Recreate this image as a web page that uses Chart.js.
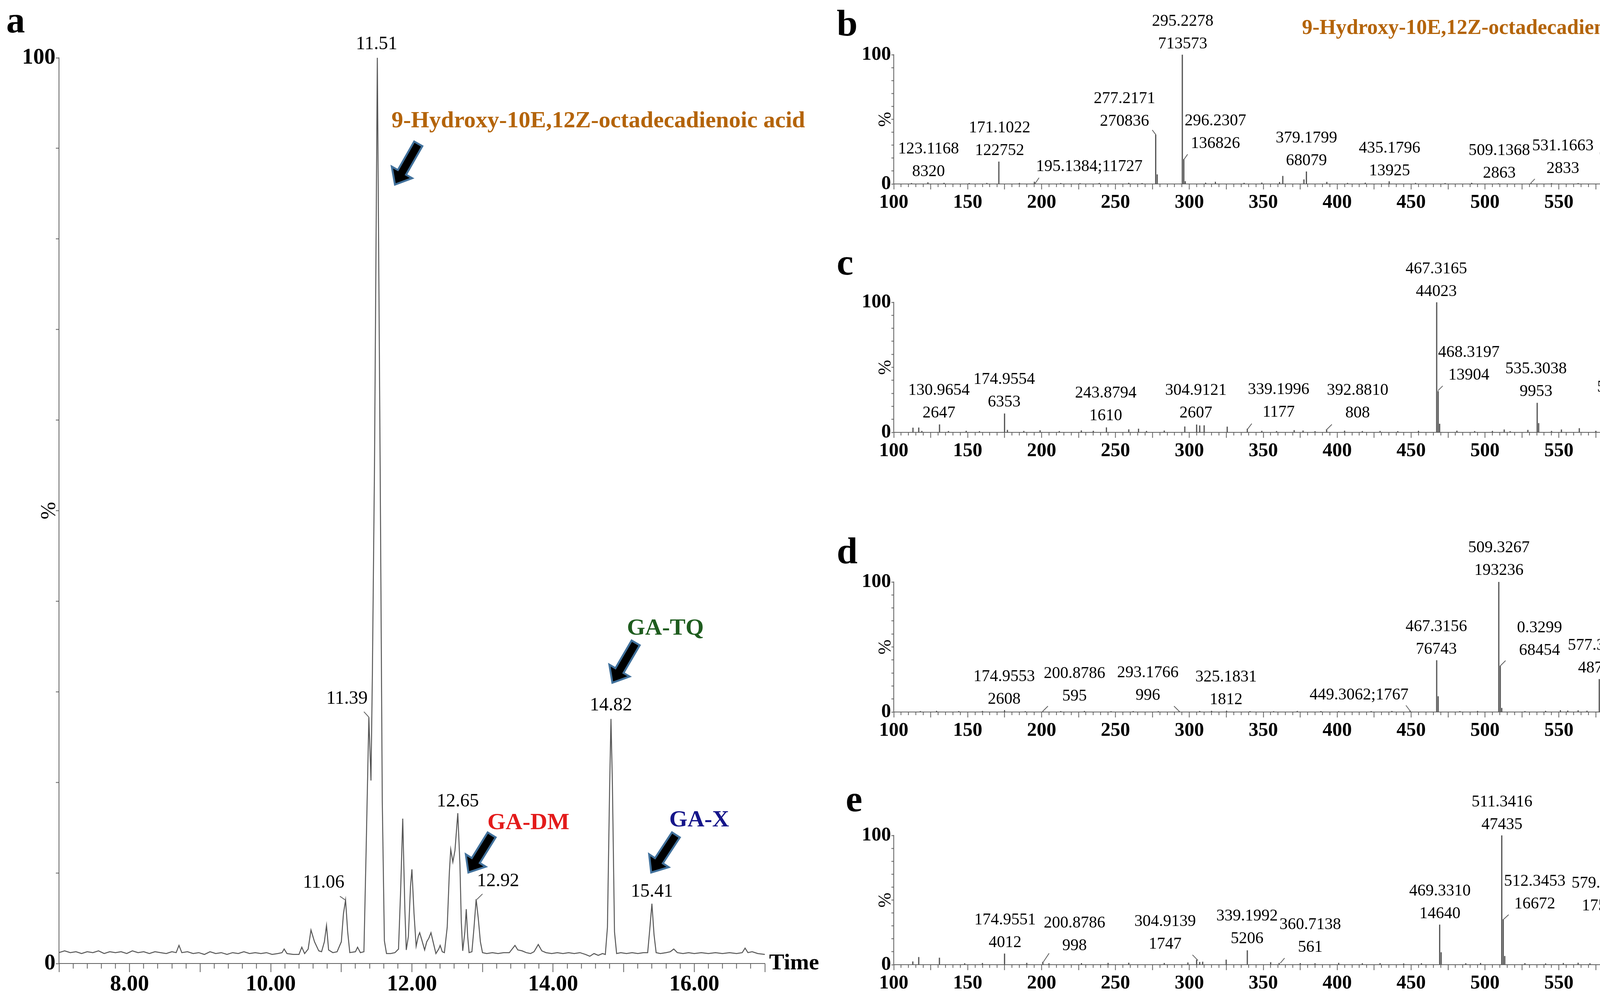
<!DOCTYPE html>
<html><head><meta charset="utf-8">
<script src="https://cdn.jsdelivr.net/npm/chart.js"></script>
<style>
html,body{margin:0;padding:0;background:#fff;}
#page{position:relative;width:4300px;height:2563px;background:#fff;overflow:hidden;}
#page canvas{position:absolute;}
</style></head>
<body><div id="page"></div>
<script>
// ================= DATA =================
// Panel a: total ion chromatogram, [time (min), relative intensity (%)]
const chromTrace = [
[7.00,1.2],[7.08,1.4],[7.16,1.2],[7.24,1.3],[7.32,1.1],[7.40,1.3],[7.48,1.2],[7.56,1.4],[7.64,1.1],[7.72,1.3],
[7.80,1.2],[7.88,1.3],[7.96,1.1],[8.04,1.4],[8.12,1.2],[8.20,1.3],[8.28,1.1],[8.36,1.3],[8.44,1.2],[8.52,1.1],
[8.60,1.3],[8.66,1.2],[8.70,2.0],[8.74,1.2],[8.82,1.3],[8.90,1.1],[8.98,1.2],[9.06,1.0],[9.14,1.3],[9.22,1.1],
[9.30,1.2],[9.38,1.0],[9.46,1.2],[9.54,1.1],[9.62,1.3],[9.70,1.1],[9.78,1.2],[9.86,1.1],[9.94,1.2],[10.02,1.0],
[10.10,1.1],[10.16,1.2],[10.19,1.6],[10.23,1.1],[10.32,1.0],[10.40,1.0],[10.44,1.8],[10.48,1.1],[10.53,1.6],[10.57,3.7],
[10.62,2.4],[10.68,1.4],[10.72,1.3],[10.76,2.4],[10.79,4.2],[10.82,1.5],[10.88,1.2],[10.94,1.3],[11.00,2.4],[11.03,5.5],[11.06,7.0],
[11.09,3.5],[11.12,1.2],[11.20,1.3],[11.23,1.8],[11.27,1.2],[11.32,1.3],[11.35,12.0],[11.39,27.2],[11.42,20.2],[11.44,32.0],
[11.47,55.0],[11.51,100],[11.55,55.0],[11.58,18.0],[11.61,2.5],[11.64,1.1],[11.70,1.1],[11.76,1.2],[11.81,1.6],[11.84,8.0],
[11.87,16.0],[11.90,6.0],[11.92,1.5],[11.95,3.0],[11.98,8.5],[12.00,10.4],[12.03,5.5],[12.06,1.9],[12.09,3.0],[12.11,3.4],
[12.14,2.6],[12.18,1.5],[12.21,2.4],[12.24,2.8],[12.27,3.4],[12.30,2.4],[12.34,1.1],[12.38,1.6],[12.40,2.0],[12.43,1.3],
[12.46,1.2],[12.50,4.0],[12.53,10.0],[12.55,12.6],[12.58,11.2],[12.61,12.5],[12.65,16.6],[12.68,11.0],[12.70,4.5],[12.72,1.4],
[12.75,3.5],[12.77,6.0],[12.79,3.0],[12.81,1.2],[12.85,1.3],[12.88,4.0],[12.91,7.1],[12.94,5.0],[12.97,2.4],[13.00,1.2],
[13.06,1.1],[13.14,1.2],[13.22,1.1],[13.30,1.2],[13.38,1.2],[13.42,1.6],[13.46,2.0],[13.50,1.5],[13.56,1.4],[13.62,1.2],
[13.68,1.1],[13.73,1.3],[13.76,1.7],[13.79,2.1],[13.84,1.4],[13.90,1.2],[13.98,1.1],[14.06,1.2],[14.14,1.1],[14.22,1.2],
[14.30,1.1],[14.38,1.2],[14.46,1.0],[14.52,0.8],[14.58,1.1],[14.64,0.9],[14.70,1.1],[14.74,1.0],[14.77,4.0],[14.80,19.0],
[14.82,27.0],[14.84,20.0],[14.87,3.5],[14.90,1.1],[14.96,1.2],[15.04,1.1],[15.12,1.2],[15.20,1.1],[15.28,1.2],[15.34,1.2],
[15.37,3.8],[15.40,6.6],[15.43,3.2],[15.46,1.2],[15.52,1.1],[15.60,1.2],[15.66,1.3],[15.71,1.6],[15.76,1.2],[15.84,1.1],
[15.92,1.2],[16.00,1.1],[16.10,1.2],[16.20,1.1],[16.30,1.2],[16.40,1.1],[16.50,1.2],[16.60,1.1],[16.68,1.2],[16.72,1.7],
[16.76,1.2],[16.82,1.3],[16.90,1.1],[17.00,1.0]
];
const chromPeakText = ['11.51','11.39','11.06','12.65','12.92','14.82','15.41'];
const chromCompounds = ['9-Hydroxy-10E,12Z-octadecadienoic acid','GA-TQ','GA-DM','GA-X'];
const chromXTickLabels = [8, 10, 12, 14, 16];
const yTickLabels = [0, 100];
const msXTickLabels = [100, 150, 200, 250, 300, 350, 400, 450, 500, 550, 600];

// Panel b: 9-Hydroxy-10E,12Z-octadecadienoic acid
const bMz  = [123.1168,171.1022,195.1384,277.2171,295.2278,296.2307,379.1799,435.1796,509.1368,531.1663,597.4699];
const bPct = [1.17,17.2,1.64,37.95,100,19.17,9.54,1.95,0.40,0.40,0.30];
const bText = ['123.1168\n8320','171.1022\n122752','195.1384;11727','277.2171\n270836','295.2278\n713573','296.2307\n136826','379.1799\n68079','435.1796\n13925','509.1368\n2863','531.1663\n2833','597.4699\n2173'];
const bMinor = [[278.22,7.3],[297.23,2.0],[363.2,6.1],[377.5,3.4],[317.6,1.6],[112,0.6],[134,0.8],[151,0.6],[163,0.7],[185,0.7],[213,0.6],[226,0.5],[239,0.7],[259,0.8],[268,0.6],[311,0.9],[337,0.8],[349,1.0],[361,1.4],[393,1.5],[407,0.7],[419,0.9],[453,0.7],[473,0.6],[491,0.8],[545,0.5],[563,0.6],[579,0.5]];

// Panel c: GA-DM
const cMz  = [130.9654,174.9554,243.8794,304.9121,339.1996,392.8810,467.3165,468.3197,535.3038,597.2727];
const cPct = [6.0,14.4,3.7,5.9,2.7,1.8,100,31.6,22.6,8.8];
const cText = ['130.9654\n2647','174.9554\n6353','243.8794\n1610','304.9121\n2607','339.1996\n1177','392.8810\n808','467.3165\n44023','468.3197\n13904','535.3038\n9953','597.2727\n3863'];
const cMinor = [[113.0,3.5],[116.9,3.6],[119,1.0],[137,0.9],[149,1.1],[158,0.8],[176.9,1.8],[188,1.0],[199.0,1.5],[212,0.9],[226.9,1.4],[235,1.1],[259.0,2.2],[265.6,2.7],[271,1.0],[283,1.3],[296.9,4.4],[307.0,5.2],[310.0,5.3],[325.6,4.3],[349,1.1],[359,0.9],[370.9,1.6],[376.9,1.3],[385,0.8],[405,1.2],[417,0.9],[429,1.0],[441,0.8],[455,1.1],[469.3,6.5],[481,1.2],[493,0.9],[505,1.0],[513,2.1],[517,0.8],[529,1.8],[536.3,7.0],[545,1.0],[551.7,2.1],[563.8,3.1],[575,1.1],[583,1.2],[589,0.9],[598.3,2.0]];

// Panel d: GA-TQ
const dMz  = [174.9553,200.8786,293.1766,325.1831,449.3062,467.3156,509.3267,510.3299,577.3137];
const dPct = [1.35,0.31,0.52,0.94,0.91,39.7,100,35.4,25.2];
const dText = ['174.9553\n2608','200.8786\n595','293.1766\n996','325.1831\n1812','449.3062;1767','467.3156\n76743','509.3267\n193236','0.3299\n68454','577.3137\n48706'];
const dMinor = [[468.32,12.0],[511.33,3.0],[578.32,2.0],[118,0.6],[129,0.8],[144,0.6],[160,0.7],[189,0.5],[213,0.6],[229,0.7],[247,0.5],[262,0.6],[279,0.5],[307,0.7],[315,0.8],[341,0.6],[357,0.5],[373,0.7],[389,0.6],[401,0.5],[423,0.6],[437,0.7],[483,0.6],[495,0.7],[527,0.6],[541,0.8],[551,1.3],[556,1.0],[563,1.2],[569,0.9],[587,0.6],[593,0.8]];

// Panel e: GA-X
const eMz  = [174.9551,200.8786,304.9139,339.1992,360.7138,469.3310,511.3416,512.3453,579.3293];
const ePct = [8.5,2.1,3.7,11.0,1.2,30.9,100,35.1,36.9];
const eText = ['174.9551\n4012','200.8786\n998','304.9139\n1747','339.1992\n5206','360.7138\n561','469.3310\n14640','511.3416\n47435','512.3453\n16672','579.3293\n17503'];
const eMinor = [[470.33,9.5],[513.35,6.6],[580.33,13.2],[112.9,2.4],[116.9,5.8],[130.9,5.3],[148,1.0],[160,1.2],[190,1.3],[205,1.0],[227,1.1],[245,1.3],[259,1.4],[283,1.2],[299,1.6],[307,2.0],[309,2.2],[324.9,3.8],[355,1.8],[375,1.1],[385,1.0],[401,1.3],[417,1.0],[429,1.1],[445,0.9],[457,1.0],[487,1.0],[497,1.2],[527,1.1],[541,0.9],[553,1.2],[563,1.4],[571,1.0],[591,0.9],[597,1.1]];

// ================= LAYOUT / STYLE =================
const FONT = '"Liberation Serif","Times New Roman",serif';
const C_ORANGE = '#B4640A', C_RED = '#E31B1B', C_GREEN = '#1E5C1E', C_NAVY = '#16168A';
const AXIS_C = '#5e5e5e', STICK_C = '#555555';

// annotation anchors (data units)
const aLabelPos = [[11.50,101.5],[11.08,29.2],[10.75,8.9],[12.65,17.9],[13.22,9.1],[14.82,28.5],[15.40,7.9]];
const aLeaders = [[10.98,7.42,11.06,6.99],[11.32,27.8,11.39,27.2],[13.00,7.68,12.92,7.07]];
const aCompoundPos = [[14.64,93.0,C_ORANGE,60],[15.59,36.96,C_GREEN,60],[13.65,15.5,C_RED,60],[16.07,15.8,C_NAVY,60]];
const aArrows = [[12.09,90.5,11.76,86.0],[15.17,35.4,14.84,31.0],[13.13,14.2,12.80,10.05],[15.74,14.2,15.39,10.05]];

const bLabelPos = [[123.5,27.0],[171.6,43.2],[232.3,13.3],[256.1,65.9],[295.5,125.8],[317.6,48.6],[379.2,35.3],[435.4,27.6],[509.7,25.8],[552.7,29.4],[597.9,25.8]];
const bLeaders = [[274.9,41.7,277.4,37.95],[298.8,22.9,296.5,19.2],[198.3,4.8,195.6,0.3],[533.7,3.9,530.8,0.4]];
const cLabelPos = [[130.6,32.1],[174.7,40.5],[243.4,30.0],[304.4,32.1],[360.4,32.7],[413.8,32.1],[467.1,125.4],[489.1,61.3],[534.5,48.6],[596.6,34.5]];
const cLeaders = [[342.2,6.7,339.0,1.9],[396.4,6.1,392.4,1.6],[471.4,35.7,468.2,32.1]];
const dLabelPos = [[174.7,27.0],[222.3,29.4],[271.9,30.0],[324.8,26.7],[414.8,12.9],[467.1,65.4],[509.4,126.0],[536.9,64.7],[576.8,51.0]];
const dLeaders = [[204.3,4.5,200.6,0.3],[289.6,4.5,293.3,0.3],[446.5,5.1,449.7,0.3],[513.9,39.5,510.2,35.3]];
const eLabelPos = [[175.3,34.4],[222.3,32.0],[283.6,33.2],[339.0,37.5],[381.8,30.8],[469.5,56.8],[511.5,125.8],[533.7,64.4],[579.4,62.7]];
const eLeaders = [[205.1,8.8,201.2,2.1],[302.1,7.6,305.8,3.3],[364.4,5.1,361.5,1.2],[516.0,38.7,512.6,35.1]];

// ================= HELPERS =================
const page = document.getElementById('page');
function addCanvas(box) {
  const c = document.createElement('canvas');
  c.width = box.w; c.height = box.h;
  Object.assign(c.style, {left: box.x + 'px', top: box.y + 'px', width: box.w + 'px', height: box.h + 'px'});
  page.appendChild(c);
  return c;
}
const near = (a, b) => Math.abs(a - b) < 1e-6;
const isMult = (v, m) => near(v / m, Math.round(v / m));

function xAxis(xh, min, max, step, majorEvery, labels, fmt, minorLen, majorLen, size, pad) {
  return {
    type: 'linear', min, max, offset: false,
    afterFit: s => { s.height = xh; },
    ticks: {
      stepSize: step, autoSkip: false, maxRotation: 0, minRotation: 0, padding: pad, color: '#000',
      font: {family: FONT, size, weight: 'bold', lineHeight: 1},
      callback: v => labels.some(t => near(t, v)) ? fmt(v) : ''
    },
    grid: {
      drawOnChartArea: false, drawTicks: true, offset: false, tickLength: majorLen, tickWidth: 2, tickColor: AXIS_C,
      tickBorderDash: ctx => (ctx.tick && isMult(ctx.tick.value, majorEvery)) ? [] : [minorLen, 400]
    },
    border: {display: true, color: AXIS_C, width: 2}
  };
}
function yAxis(yw, size, tl) {
  return {
    type: 'linear', min: 0, max: 100,
    afterFit: s => { s.width = yw; },
    ticks: {
      stepSize: 10, autoSkip: false, padding: 1, color: '#000',
      font: {family: FONT, size, weight: 'bold', lineHeight: 1},
      callback: v => yTickLabels.some(t => near(t, v)) ? String(Math.round(v)) : ''
    },
    grid: {drawOnChartArea: false, drawTicks: true, tickLength: tl, tickWidth: 2, tickColor: AXIS_C},
    border: {display: true, color: AXIS_C, width: 2}
  };
}

function drawArrow(ctx, x1, y1, x2, y2) {
  const dx = x2 - x1, dy = y2 - y1, L = Math.hypot(dx, dy);
  const ux = dx / L, uy = dy / L, nx = -uy, ny = ux;
  const hl = 36, hw = 30, sw = 12;
  const bx = x2 - ux * hl, by = y2 - uy * hl;
  ctx.beginPath();
  ctx.moveTo(x1 + nx * sw, y1 + ny * sw);
  ctx.lineTo(bx + nx * sw, by + ny * sw);
  ctx.lineTo(bx + nx * hw, by + ny * hw);
  ctx.lineTo(x2, y2);
  ctx.lineTo(bx - nx * hw, by - ny * hw);
  ctx.lineTo(bx - nx * sw, by - ny * sw);
  ctx.lineTo(x1 - nx * sw, y1 - ny * sw);
  ctx.closePath();
  ctx.fillStyle = '#000'; ctx.fill();
  ctx.lineWidth = 5; ctx.strokeStyle = '#41719C'; ctx.lineJoin = 'miter'; ctx.stroke();
}

function annotPlugin(cfg, box) {
  return {
    id: 'annot',
    afterDraw(chart) {
      const ctx = chart.ctx, A = chart.chartArea;
      const xs = chart.scales.x, ys = chart.scales.y;
      const px = v => xs.getPixelForValue(v), py = v => ys.getPixelForValue(v);
      ctx.save();
      ctx.strokeStyle = AXIS_C; ctx.lineWidth = 2;
      cfg.leaders.forEach(([x1, y1, x2, y2]) => {
        ctx.beginPath(); ctx.moveTo(px(x1), py(y1)); ctx.lineTo(px(x2), py(y2)); ctx.stroke();
      });
      ctx.fillStyle = '#000'; ctx.textAlign = 'center'; ctx.textBaseline = 'middle';
      ctx.font = cfg.labelSize + 'px ' + FONT;
      cfg.labelText.forEach((txt, i) => {
        const [x, y] = cfg.labelPos[i];
        txt.split('\n').forEach((line, j) => ctx.fillText(line, px(x), py(y) + j * cfg.lineGap));
      });
      (cfg.arrows || []).forEach(([x1, y1, x2, y2]) => drawArrow(ctx, px(x1), py(y1), px(x2), py(y2)));
      (cfg.compounds || []).forEach((name, i) => {
        const [x, y, col, sz] = cfg.compoundPos[i];
        ctx.fillStyle = col; ctx.font = 'bold ' + sz + 'px ' + FONT;
        ctx.textAlign = 'center'; ctx.textBaseline = 'middle';
        ctx.fillText(name, px(x), py(y));
      });
      ctx.fillStyle = '#000';
      ctx.save();
      ctx.translate(A.left - cfg.pctDx, (A.top + A.bottom) / 2);
      ctx.rotate(-Math.PI / 2);
      ctx.font = cfg.pctSize + 'px ' + FONT; ctx.textAlign = 'center'; ctx.textBaseline = 'middle';
      ctx.fillText('%', 0, 0);
      ctx.restore();
      ctx.font = cfg.xTitleFont; ctx.textAlign = 'left'; ctx.textBaseline = 'middle';
      ctx.fillText(cfg.xTitle, A.right + cfg.xTitleGap, A.bottom);
      cfg.pageText.forEach(([t, x, y, align, base, font, col]) => {
        ctx.fillStyle = col; ctx.font = font; ctx.textAlign = align; ctx.textBaseline = base;
        ctx.fillText(t, x - box.x, y - box.y);
      });
      ctx.restore();
    }
  };
}

function makeChart(box, area, yw, xh, type, dataset, scales, cfg) {
  const canvas = addCanvas(box);
  return new Chart(canvas, {
    type,
    data: {datasets: [dataset]},
    options: {
      responsive: false, animation: false, devicePixelRatio: 1, events: [],
      layout: {padding: {
        left: area.l - box.x - yw, top: area.t - box.y,
        right: box.x + box.w - area.r, bottom: box.y + box.h - area.b - xh
      }},
      plugins: {legend: {display: false}, tooltip: {enabled: false}},
      scales
    },
    plugins: [annotPlugin(cfg, box)]
  });
}

const LETTER_FONT = 'bold 96px ' + FONT;

// ================= PANEL a =================
const AYW = 135, AXH = 90;
makeChart(
  {x: 0, y: 0, w: 2150, h: 2563}, {l: 151, r: 1958, t: 148, b: 2467}, AYW, AXH, 'line',
  {data: chromTrace.map(([x, y]) => ({x, y})), borderColor: '#555555', borderWidth: 2.5, pointRadius: 0, tension: 0, fill: false},
  {x: xAxis(AXH, 7, 17, 0.2, 1, chromXTickLabels, v => v.toFixed(2), 12, 22, 57, 4), y: yAxis(AYW, 57, 8)},
  {labelText: chromPeakText, labelPos: aLabelPos, labelSize: 48, lineGap: 0, leaders: aLeaders,
   arrows: aArrows, compounds: chromCompounds, compoundPos: aCompoundPos,
   pctDx: 24, pctSize: 54, xTitle: 'Time', xTitleFont: 'bold 58px ' + FONT, xTitleGap: 11,
   pageText: [['a', 16, 83, 'left', 'alphabetic', LETTER_FONT, '#000']]}
);

// ================= MS PANELS =================
const MYW = 110, MXH = 80;
function msPanel(box, area, mz, pct, minor, text, labelPos, leaders, pageText) {
  const pts = mz.map((m, i) => ({x: m, y: pct[i]})).concat(minor.map(([x, y]) => ({x, y})));
  return makeChart(box, area, MYW, MXH, 'bar',
    {data: pts, backgroundColor: STICK_C, borderWidth: 0, barThickness: 2.5, grouped: false},
    {x: xAxis(MXH, 100, 600, 5, 25, msXTickLabels, v => String(Math.round(v)), 7, 14, 50, 9), y: yAxis(MYW, 50, 6)},
    {labelText: text, labelPos, labelSize: 42, lineGap: 58, leaders,
     pctDx: 20, pctSize: 46, xTitle: 'm/z', xTitleFont: 'italic bold 48px ' + FONT, xTitleGap: 12,
     pageText}
  );
}
msPanel({x: 2100, y: 0, w: 2200, h: 640}, {l: 2288, r: 4180, t: 140, b: 471},
  bMz, bPct, bMinor, bText, bLabelPos, bLeaders,
  [['b', 2142, 91, 'left', 'alphabetic', LETTER_FONT, '#000'],
   [chromCompounds[0], 4286, 73, 'right', 'middle', 'bold 54px ' + FONT, C_ORANGE]]);
msPanel({x: 2100, y: 640, w: 2200, h: 640}, {l: 2288, r: 4180, t: 774, b: 1107},
  cMz, cPct, cMinor, cText, cLabelPos, cLeaders,
  [['c', 2142, 703, 'left', 'alphabetic', LETTER_FONT, '#000'],
   [chromCompounds[2], 4286, 685, 'right', 'middle', 'bold 54px ' + FONT, C_RED]]);
msPanel({x: 2100, y: 1280, w: 2200, h: 640}, {l: 2288, r: 4180, t: 1490, b: 1823},
  dMz, dPct, dMinor, dText, dLabelPos, dLeaders,
  [['d', 2142, 1442, 'left', 'alphabetic', LETTER_FONT, '#000'],
   [chromCompounds[1], 4286, 1424, 'right', 'middle', 'bold 52px ' + FONT, C_GREEN]]);
msPanel({x: 2100, y: 1920, w: 2200, h: 643}, {l: 2288, r: 4180, t: 2139, b: 2470},
  eMz, ePct, eMinor, eText, eLabelPos, eLeaders,
  [['e', 2165, 2077, 'left', 'alphabetic', LETTER_FONT, '#000'],
   [chromCompounds[3], 4286, 2058, 'right', 'middle', 'bold 52px ' + FONT, C_NAVY]]);
</script>
</body></html>
